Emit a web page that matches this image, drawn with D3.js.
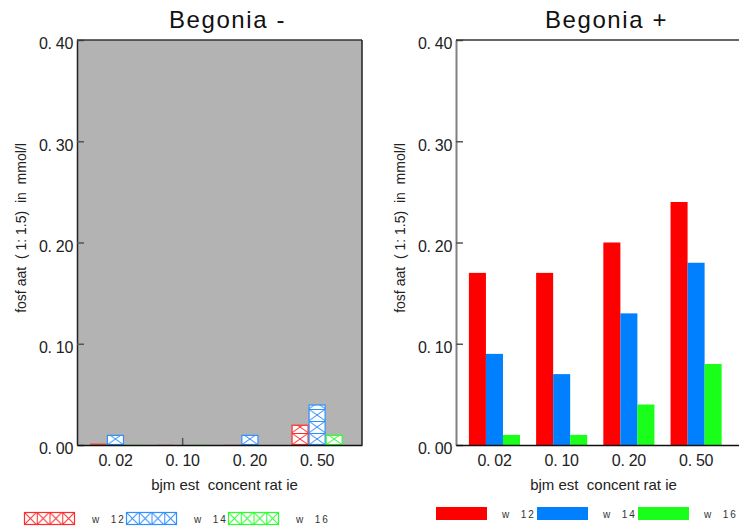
<!DOCTYPE html>
<html><head><meta charset="utf-8">
<script src="https://cdn.jsdelivr.net/npm/d3@7/dist/d3.min.js"></script>
<style>
html,body{margin:0;padding:0;background:#fff;}
svg{display:block;}
text{font-family:"Liberation Sans","DejaVu Sans",sans-serif;}
</style></head>
<body>
<svg id="chart" width="739" height="531"></svg>
<script>
// ---------- data ----------
const categories = ["0.02", "0.10", "0.20", "0.50"];
const seriesNames = ["w  12", "w  14", "w  16"];
const seriesColors = ["#ff0000", "#0080ff", "#19ff19"];
const hatchColors = ["#ff2a2a", "#2f8fff", "#2aff2a"];
// Begonia - (hatched)
const minW12 = [0.0015, 0.0004, 0.0004, 0.02];
const minW14 = [0.01, 0.0, 0.01, 0.04];
const minW16 = [0.0004, 0.0004, 0.0, 0.01];
const minErrW14 = [0, 0.007, 0, 0];
// Begonia + (solid)
const plusW12 = [0.17, 0.17, 0.20, 0.24];
const plusW14 = [0.09, 0.07, 0.13, 0.18];
const plusW16 = [0.01, 0.01, 0.04, 0.08];
const yTicks = [0, 0.10, 0.20, 0.30, 0.40];
const titles = ["Begonia -", "Begonia +"];
const xTitle = "bjm est  concent rat ie";
const yTitle = "fosf aat  ( 1: 1.5)  in  mmol/l";

const svg = d3.select("#chart");
const defs = svg.append("defs");
const fmt = v => d3.format(".2f")(v).replace(".", ". ");

function panel(opt) {
  const x0 = opt.x0, top = 40, bottom = 445, width = 285;
  const y = d3.scaleLinear().domain([0, 0.40]).range([bottom, top]);
  const xb = d3.scaleBand().domain(categories).range([x0, x0 + width])
    .paddingInner(0.24).paddingOuter(0.24).align(0.4);
  const xs = d3.scaleBand().domain(seriesNames).range([0, xb.bandwidth()]);
  const g = svg.append("g");

  if (opt.bg) g.append("rect").attr("x", x0).attr("y", top).attr("width", width)
    .attr("height", bottom - top).attr("fill", opt.bg);

  const series = opt.series;
  series.forEach((vals, si) => {
    vals.forEach((v, ci) => {
      const bx = xb(categories[ci]) + xs(seriesNames[si]);
      const bw = xs.bandwidth();
      const by = y(v), bh = y(0) - y(v);
      if (bh <= 0) return;
      if (opt.hatched) {
        const pid = `hp${opt.key}${si}${ci}`;
        const ph = 12;
        const p = defs.append("pattern").attr("id", pid).attr("patternUnits", "userSpaceOnUse")
          .attr("x", bx).attr("y", y(0)).attr("width", bw).attr("height", ph);
        p.append("rect").attr("width", bw).attr("height", ph).attr("fill", "#fff");
        const c = hatchColors[si];
        p.append("line").attr("x1", 0).attr("y1", 0).attr("x2", bw).attr("y2", ph).attr("stroke", c).attr("stroke-width", 1);
        p.append("line").attr("x1", bw).attr("y1", 0).attr("x2", 0).attr("y2", ph).attr("stroke", c).attr("stroke-width", 1);
        p.append("line").attr("x1", 0).attr("y1", 0.5).attr("x2", bw).attr("y2", 0.5).attr("stroke", c).attr("stroke-width", 1);
        g.append("rect").attr("x", bx + 0.5).attr("y", by + 0.5).attr("width", Math.max(bw - 1, 0))
          .attr("height", Math.max(bh - 1, 0.5)).attr("fill", bh > 3 ? `url(#${pid})` : hatchColors[si])
          .attr("stroke", hatchColors[si]).attr("stroke-width", bh > 3 ? 1.2 : 0.6);
      } else {
        g.append("rect").attr("x", bx).attr("y", by).attr("width", bw).attr("height", bh)
          .attr("fill", seriesColors[si]);
      }
    });
  });

  if (opt.err) {
    opt.err.forEach((e, ci) => {
      if (!e) return;
      const cx = xb(categories[ci]) + xs(seriesNames[1]) + xs.bandwidth() / 2;
      const v = series[1][ci];
      g.append("line").attr("x1", cx).attr("x2", cx).attr("y1", y(v)).attr("y2", y(v + e))
        .attr("stroke", "#555").attr("stroke-width", 1.5);
    });
  }

  // y axis
  const ya = d3.axisLeft(y).tickValues(yTicks).tickSizeInner(-7).tickSizeOuter(0)
    .tickPadding(4).tickFormat(fmt);
  const yg = g.append("g").attr("transform", `translate(${x0},0)`).call(ya);
  yg.select(".domain").attr("stroke", opt.frame ? "#222" : "#808080").attr("stroke-width", opt.frame ? 1.5 : 2);
  yg.selectAll(".tick line").attr("stroke", "#555").attr("stroke-width", 1.5);
  yg.selectAll(".tick text").attr("font-size", 16).attr("fill", "#222").attr("dy", "0.55em")
    .attr("letter-spacing", "-0.3");

  // x axis
  const xa = d3.axisBottom(xb).tickSize(0).tickPadding(10).tickFormat(fmt);
  const xg = g.append("g").attr("transform", `translate(0,${bottom})`).call(xa);
  xg.select(".domain").attr("stroke", "#111").attr("stroke-width", 1.5);
  xg.selectAll(".tick text").attr("font-size", 16).attr("fill", "#222").attr("letter-spacing", "-0.3");

  // top & right lines
  g.append("line").attr("x1", x0).attr("x2", x0 + width).attr("y1", top).attr("y2", top)
    .attr("stroke", "#333").attr("stroke-width", 1.5);
  g.append("line").attr("x1", x0 + width).attr("x2", x0 + width).attr("y1", top).attr("y2", bottom)
    .attr("stroke", "#222").attr("stroke-width", 1.5);

  // titles
  g.append("text").attr("x", x0 + width / 2 + 8).attr("y", 28).attr("text-anchor", "middle")
    .attr("font-size", 24).attr("letter-spacing", "1.6").attr("fill", "#111").text(titles[opt.idx]);
  g.append("text").attr("x", x0 + width / 2 + 5).attr("y", 490).attr("text-anchor", "middle")
    .attr("font-size", 15).attr("fill", "#222").style("white-space", "pre").text(xTitle);
  g.append("text").attr("transform", `translate(${x0 - 51},228) rotate(-90)`).attr("text-anchor", "middle")
    .attr("font-size", 14).attr("fill", "#222").style("white-space", "pre").text(yTitle);

  // legend
  const lg = svg.append("g");
  seriesNames.forEach((s, si) => {
    const sx = opt.legX + si * opt.legStep, sy = opt.legY, sw = 51, sh = 13;
    if (opt.hatched) {
      const pid = `lp${opt.key}${si}`;
      const cw = sw / 4;
      const p = defs.append("pattern").attr("id", pid).attr("patternUnits", "userSpaceOnUse")
        .attr("x", sx).attr("y", sy).attr("width", cw).attr("height", sh);
      p.append("rect").attr("width", cw).attr("height", sh).attr("fill", "#fff");
      const c = hatchColors[si];
      p.append("line").attr("x1", 0).attr("y1", 0).attr("x2", cw).attr("y2", sh).attr("stroke", c);
      p.append("line").attr("x1", cw).attr("y1", 0).attr("x2", 0).attr("y2", sh).attr("stroke", c);
      p.append("line").attr("x1", 0.5).attr("y1", 0).attr("x2", 0.5).attr("y2", sh).attr("stroke", c);
      lg.append("rect").attr("x", sx + 0.5).attr("y", sy + 0.5).attr("width", sw - 1).attr("height", sh - 1)
        .attr("fill", `url(#${pid})`).attr("stroke", c).attr("stroke-width", 1.2);
    } else {
      lg.append("rect").attr("x", sx).attr("y", sy).attr("width", sw).attr("height", sh)
        .attr("fill", seriesColors[si]);
    }
    lg.append("text").attr("x", sx + opt.legTextDx).attr("y", sy + sh - 2)
      .attr("font-size", 10).attr("letter-spacing", "2").attr("fill", "#333")
      .style("white-space", "pre").text(s);
  });
}

panel({ key: "m", idx: 0, x0: 77, bg: "#b3b3b3", frame: true, hatched: true,
  series: [minW12, minW14, minW16], err: minErrW14,
  legX: 24, legStep: 102, legY: 512, legTextDx: 68 });
panel({ key: "p", idx: 1, x0: 456, bg: null, frame: false, hatched: false,
  series: [plusW12, plusW14, plusW16],
  legX: 436, legStep: 101, legY: 507, legTextDx: 66 });
</script>
</body></html>
